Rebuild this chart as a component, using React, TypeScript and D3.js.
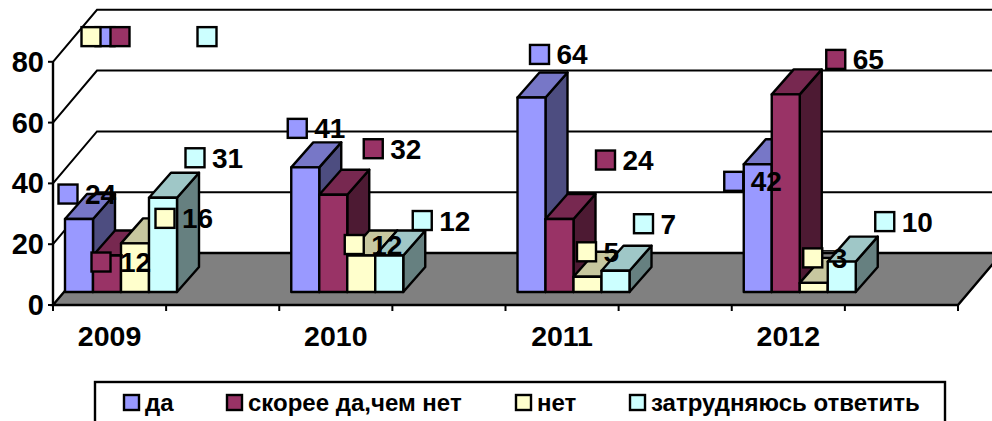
import React from "react";
import * as d3 from "d3";

const years = ["2009", "2010", "2011", "2012"];
const seriesNames = ["да", "скорее да,чем нет", "нет", "затрудняюсь ответить"];
const da = [24, 41, 64, 42];
const skoree = [12, 32, 24, 65];
const net = [16, 12, 5, 3];
const zatrudnyayus = [31, 12, 7, 10];
const yTicks = [0, 20, 40, 60, 80];
const strayMarkers = [
  { series: 0, value: 84 },
  { series: 2, value: 84 },
  { series: 1, value: 84 },
  { series: 3, value: 84 },
];

const fills = ["#9999FF", "#993366", "#FFFFCC", "#CCFFFF"];
const legendX = [124, 227, 516, 630];
// marker displacement from each bar's front-top-left corner, by year then series
const labelNudge = [
  [[3, -25], [8, 6.5], [44, -25], [46, -40]],
  [[6, -39], [54, -46], [7, -11], [47, -35]],
  [[22, -43], [60, -59], [13, -25], [42, -47]],
  [[-10, 17], [64, -35], [13, -25], [57, -40]],
];
const strayNudge = [40, 27, -30, 58];
// labels with a short leader stub next to the marker: [year index, series index]
const leaderLabels = [[0, 1], [3, 2]];

const W = 992, H = 421;
const axisX = 53, plotW = 905, axisY0 = 305, unit = 3.04;
const wallDx = 44, wallDy = -52;
const barDx = 22, barDy = -25, barW = 28, barBase = 292, barInset = 12;
const lw = 2.4;
const font = "'Liberation Sans', Arial, sans-serif";

const yAxis = d3.scaleLinear().domain([0, 80]).range([axisY0, axisY0 - 80 * unit]);
const yBar = d3.scaleLinear().domain([0, 80]).range([barBase, barBase - 80 * unit]);
const xCat = d3.scaleBand<string>().domain(years).range([axisX, axisX + plotW]);
const poly = d3.line<[number, number]>();
const shade = (c: string, k: number) => {
  const r = d3.rgb(c);
  return d3.rgb(r.r * k, r.g * k, r.b * k).formatHex();
};
const allSeries = [da, skoree, net, zatrudnyayus];
const barX = (yi: number, si: number) => xCat(years[yi])! + barInset + si * barW;

const Marker = ({ cx, cy, fill }: { cx: number; cy: number; fill: string }) => (
  <rect x={cx - 9.5} y={cy - 9.5} width={19} height={19} fill={fill} stroke="#000" strokeWidth={lw} />
);

export default function App() {
  const ticksX = d3.range(0, 9).map((i) => axisX + (i * plotW) / 8);
  return (
    <svg width={W} height={H} viewBox={`0 0 ${W} ${H}`} style={{ position: "fixed", left: 0, top: 0, background: "#fff" }}>
      {/* gridlines and wall */}
      {yTicks.slice(1).map((t) => (
        <path key={t} stroke="#000" strokeWidth={2} fill="none"
          d={poly([[axisX, yAxis(t)], [axisX + wallDx, yAxis(t) + wallDy], [W + 20, yAxis(t) + wallDy]])!} />
      ))}
      {/* floor */}
      <path
        d={poly([[axisX, axisY0], [axisX + wallDx, axisY0 + wallDy], [axisX + plotW + wallDx, axisY0 + wallDy], [axisX + plotW, axisY0]])! + "Z"}
        fill="#808080" stroke="#000" strokeWidth={lw}
      />
      {/* axes */}
      <path d={poly([[axisX, yAxis(80)], [axisX, axisY0]])!} stroke="#000" strokeWidth={lw} />
      {yTicks.map((t) => (
        <g key={t}>
          <line x1={axisX - 5} x2={axisX} y1={yAxis(t)} y2={yAxis(t)} stroke="#000" strokeWidth={2} />
          <text x={axisX - 9} y={yAxis(t) + 10} textAnchor="end" fontFamily={font} fontWeight="bold" fontSize={29}>{t}</text>
        </g>
      ))}
      {ticksX.map((x) => (
        <line key={x} x1={x} x2={x} y1={axisY0} y2={axisY0 + 6} stroke="#000" strokeWidth={2} />
      ))}
      {years.map((y) => (
        <text key={y} x={xCat(y)! + xCat.bandwidth() / 4} y={346} textAnchor="middle" fontFamily={font} fontWeight="bold" fontSize={28.5}>{y}</text>
      ))}
      {/* bars */}
      {years.map((y, yi) =>
        allSeries.map((vals, si) => {
          const x = barX(yi, si);
          const top = yBar(vals[yi]);
          const c = fills[si];
          return (
            <g key={y + si} stroke="#000" strokeWidth={lw} strokeLinejoin="round">
              <path d={poly([[x + barW, top], [x + barW + barDx, top + barDy], [x + barW + barDx, barBase + barDy], [x + barW, barBase]])! + "Z"} fill={shade(c, 0.5)} />
              <path d={poly([[x, top], [x + barDx, top + barDy], [x + barW + barDx, top + barDy], [x + barW, top]])! + "Z"} fill={shade(c, 0.78)} />
              <rect x={x} y={top} width={barW} height={barBase - top} fill={c} />
            </g>
          );
        })
      )}
      {/* stray markers above the plot */}
      {strayMarkers.map((m) => (
        <Marker key={m.series} cx={barX(0, m.series) + strayNudge[m.series]} cy={yBar(m.value)} fill={fills[m.series]} />
      ))}
      {/* data labels */}
      {years.map((y, yi) =>
        allSeries.map((vals, si) => {
          const [dx, dy] = labelNudge[yi][si];
          const cx = barX(yi, si) + dx;
          const cy = yBar(vals[yi]) + dy;
          const leader = leaderLabels.some(([a, b]) => a === yi && b === si);
          return (
            <g key={y + si}>
              {leader && <line x1={cx + 9} x2={cx + 22} y1={cy - 7} y2={cy - 7} stroke="#000" strokeWidth={1.5} />}
              <Marker cx={cx} cy={cy} fill={fills[si]} />
              <text x={cx + (leader ? 19 : 17)} y={cy + 10} fontFamily={font} fontWeight="bold" fontSize={28}>{vals[yi]}</text>
            </g>
          );
        })
      )}
      {/* legend */}
      <rect x={95} y={382} width={850} height={60} fill="#fff" stroke="#000" strokeWidth={lw} />
      {seriesNames.map((n, i) => (
        <g key={n}>
          <rect x={legendX[i]} y={395} width={15} height={15} fill={fills[i]} stroke="#000" strokeWidth={lw} />
          <text x={legendX[i] + 21} y={411} fontFamily={font} fontWeight="bold" fontSize={24}>{n}</text>
        </g>
      ))}
    </svg>
  );
}
